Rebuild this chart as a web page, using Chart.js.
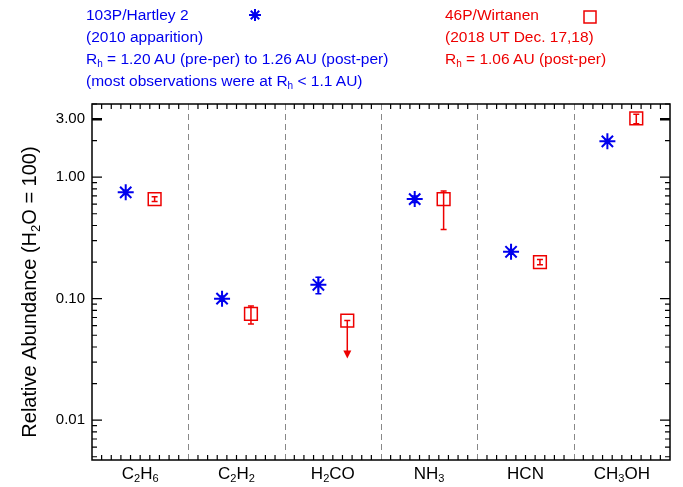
<!DOCTYPE html>
<html><head><meta charset="utf-8">
<script src="https://cdn.jsdelivr.net/npm/chart.js@4"></script>
<style>
body{margin:0;background:#fff;font-family:"Liberation Sans",Arial,sans-serif}
#wrap{position:relative;width:683px;height:487px}
.leg{position:absolute;font-size:15.5px;line-height:22px;white-space:nowrap}
.leg div{height:22px}
.leg sub{font-size:10px;line-height:0;vertical-align:-3px}
</style></head><body>
<div id="wrap"><canvas id="c" width="683" height="487"></canvas>
<div class="leg" style="left:86px;top:4px;color:#0000ee"><div>103P/Hartley 2</div><div>(2010 apparition)</div><div>R<sub>h</sub> = 1.20 AU (pre-per) to 1.26 AU (post-per)</div><div>(most observations were at R<sub>h</sub> &lt; 1.1 AU)</div></div>
<div class="leg" style="left:445px;top:4px;color:#ee0000"><div>46P/Wirtanen</div><div>(2018 UT Dec. 17,18)</div><div>R<sub>h</sub> = 1.06 AU (post-per)</div></div>
</div>
<script>
const categories=[["C","2","H","6"],["C","2","H","2"],["H","2","CO"],["NH","3"],["HCN"],["CH","3","OH"]];
const hartley=[0.75,0.10,0.13,0.66,0.243,1.97];
const hartleyLo=[0.72,0.095,0.11,0.62,0.232,1.90];
const hartleyHi=[0.78,0.105,0.15,0.70,0.254,2.04];
const wirtanen=[0.66,0.075,0.066,0.66,0.20,3.05];
const wirtanenLo=[0.63,0.062,null,0.37,0.19,2.75];
const wirtanenHi=[0.69,0.087,null,0.77,0.21,3.30];
const upperLimit=[false,false,true,false,false,false];
const yTicks=[0.01,0.1,1,3];
const yTickLabels=["0.01","0.10","1.00","3.00"];
const BLUE="#0000ee",RED="#ee0000";
const F='"Liberation Sans",Arial,sans-serif';

function subText(ctx,parts,x,y,size,align){
  let w=0;const ws=[];
  parts.forEach((p,i)=>{ctx.font=(i%2?size*0.65:size)+'px '+F;const m=ctx.measureText(p).width;ws.push(m);w+=m;});
  let cx=align==='center'?x-w/2:x;
  parts.forEach((p,i)=>{ctx.font=(i%2?size*0.65:size)+'px '+F;ctx.fillText(p,cx,y+(i%2?size*0.3:0));cx+=ws[i];});
}

const deco={id:'deco',afterDatasetsDraw(ch){
  const ctx=ch.ctx,a=ch.chartArea,xs=ch.scales.x,ys=ch.scales.y;
  ctx.save();
  function eb(x,lo,hi,col){if(lo==null)return;const y1=ys.getPixelForValue(lo),y2=ys.getPixelForValue(hi);
    ctx.strokeStyle=col;ctx.lineWidth=1.5;ctx.beginPath();ctx.moveTo(x,y1);ctx.lineTo(x,y2);
    ctx.moveTo(x-3,y1);ctx.lineTo(x+3,y1);ctx.moveTo(x-3,y2);ctx.lineTo(x+3,y2);ctx.stroke();}
  hartley.forEach((v,i)=>eb(xs.getPixelForValue(i+0.35),hartleyLo[i],hartleyHi[i],BLUE));
  wirtanen.forEach((v,i)=>{const x=xs.getPixelForValue(i+0.65);
    if(upperLimit[i]){const y=ys.getPixelForValue(v),y2=ys.getPixelForValue(v/2.05);
      ctx.strokeStyle=RED;ctx.fillStyle=RED;ctx.lineWidth=1.5;ctx.beginPath();ctx.moveTo(x-3,y);ctx.lineTo(x+3,y);ctx.moveTo(x,y);ctx.lineTo(x,y2-6);ctx.stroke();
      ctx.beginPath();ctx.moveTo(x-4,y2-8);ctx.lineTo(x+4,y2-8);ctx.lineTo(x,y2);ctx.closePath();ctx.fill();}
    else eb(x,wirtanenLo[i],wirtanenHi[i],RED);});
  ctx.strokeStyle='#888';ctx.lineWidth=1;ctx.setLineDash([6,4]);
  for(let i=1;i<6;i++){const x=Math.round(xs.getPixelForValue(i))+0.5;ctx.beginPath();ctx.moveTo(x,a.top);ctx.lineTo(x,a.bottom);ctx.stroke();}
  ctx.setLineDash([]);
  ctx.strokeStyle='#000';ctx.lineWidth=1.5;ctx.strokeRect(a.left,a.top,a.right-a.left,a.bottom-a.top);
  ctx.lineWidth=1.2;ctx.beginPath();
  for(let i=0;i<=60;i++){const x=xs.getPixelForValue(i/10);const L=i%10===0?0:5;
    ctx.moveTo(x,a.top);ctx.lineTo(x,a.top+L);ctx.moveTo(x,a.bottom);ctx.lineTo(x,a.bottom-L);}
  for(let d=-3;d<=0;d++)for(let m=1;m<=9;m++){const v=m*Math.pow(10,d);if(v<ys.min||v>ys.max)continue;
    const y=ys.getPixelForValue(v);const L=m===1?10:5;
    ctx.moveTo(a.left,y);ctx.lineTo(a.left+L,y);ctx.moveTo(a.right,y);ctx.lineTo(a.right-L,y);}
  ctx.stroke();
  ctx.lineWidth=2.5;ctx.beginPath();const y3=ys.getPixelForValue(3);
  ctx.moveTo(a.left,y3);ctx.lineTo(a.left+10,y3);ctx.moveTo(a.right,y3);ctx.lineTo(a.right-10,y3);ctx.stroke();
  ctx.fillStyle='#000';ctx.textBaseline='middle';ctx.textAlign='right';ctx.font='15px '+F;
  yTicks.forEach((v,i)=>ctx.fillText(yTickLabels[i],a.left-7,ys.getPixelForValue(v)));
  ctx.textAlign='left';
  categories.forEach((c,i)=>subText(ctx,c,xs.getPixelForValue(i+0.5),a.bottom+14,17,'center'));
  ctx.translate(30,(a.top+a.bottom)/2+10);ctx.rotate(-Math.PI/2);
  subText(ctx,["Relative Abundance (H","2","O = 100)"],0,0,20,'center');
  ctx.restore();
  ctx.save();ctx.strokeStyle=BLUE;ctx.lineWidth=2;ctx.beginPath();
  const sx=255,sy=15,r=6;for(let k=0;k<4;k++){const t=k*Math.PI/4;ctx.moveTo(sx-r*Math.cos(t),sy-r*Math.sin(t));ctx.lineTo(sx+r*Math.cos(t),sy+r*Math.sin(t));}
  ctx.stroke();ctx.strokeStyle=RED;ctx.lineWidth=1.5;ctx.strokeRect(584,11,12,12);ctx.restore();
}};

new Chart(document.getElementById('c'),{
  type:'scatter',
  data:{datasets:[
    {data:hartley.map((v,i)=>({x:i+0.35,y:v})),pointStyle:'star',radius:8,borderColor:BLUE,borderWidth:2,backgroundColor:BLUE},
    {data:wirtanen.map((v,i)=>({x:i+0.65,y:v})),pointStyle:'rect',radius:9,borderColor:RED,borderWidth:1.5,backgroundColor:'rgba(0,0,0,0)'}
  ]},
  options:{responsive:false,animation:false,events:[],
    layout:{padding:{left:92,top:104,right:13,bottom:27}},
    plugins:{legend:{display:false},tooltip:{enabled:false}},
    scales:{x:{type:'linear',min:0,max:6,display:false},
      y:{type:'logarithmic',min:0.0047,max:4.0,display:false}}},
  plugins:[deco]
});
</script></body></html>
